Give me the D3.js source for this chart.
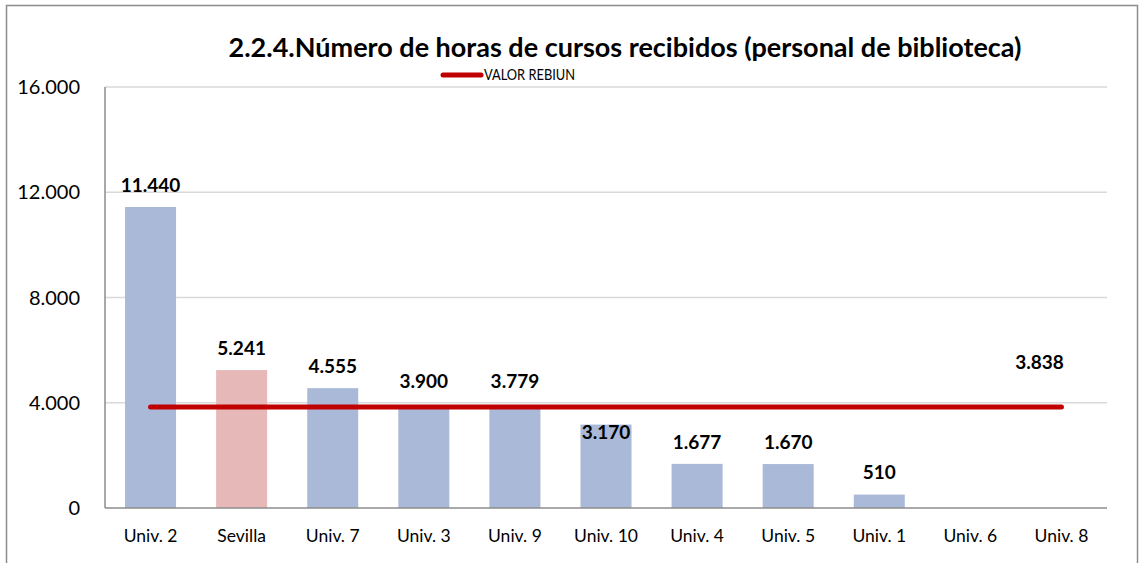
<!DOCTYPE html>
<html>
<head>
<meta charset="utf-8">
<script src="https://cdn.jsdelivr.net/npm/d3@7"></script>
<style>
  body { margin: 0; background: #fff; }
  svg { font-family: Lato, "Noto Sans", sans-serif; }
</style>
</head>
<body>
<svg id="chart" width="1141" height="563"></svg>
<script>
const categories = ['Univ. 2', 'Sevilla', 'Univ. 7', 'Univ. 3', 'Univ. 9', 'Univ. 10', 'Univ. 4', 'Univ. 5', 'Univ. 1', 'Univ. 6', 'Univ. 8'];
const hours = [11440, 5241, 4555, 3900, 3779, 3170, 1677, 1670, 510, 0, 0];
const rebiunValue = 3838;
const yTicks = [0, 4000, 8000, 12000, 16000];
const title = '2.2.4.Número de horas de cursos recibidos (personal de biblioteca)';
const legendLabel = 'VALOR REBIUN';
const highlight = 'Sevilla';

const es = d3.formatLocale({ decimal: ',', thousands: '.', grouping: [3], currency: ['', ' €'] });
const fmt = es.format(',d');

const svg = d3.select('#chart');
const W = 1141, H = 563;
const margin = { left: 105, right: 34, top: 87, bottom: 55 };
const plotW = W - margin.left - margin.right;
const plotH = H - margin.top - margin.bottom;

// outer frame
svg.append('rect')
  .attr('x', 6.5).attr('y', 5.5)
  .attr('width', 1131).attr('height', 620)
  .attr('fill', 'none')
  .attr('stroke', '#8c8c8c')
  .attr('stroke-width', 1.5);

const g = svg.append('g').attr('transform', `translate(${margin.left},${margin.top})`);

const x = d3.scaleBand().domain(categories).range([0, plotW]).paddingInner(0.44).paddingOuter(0.22);
const y = d3.scaleLinear().domain([0, 16000]).range([plotH, 0]);

// gridlines
g.selectAll('line.grid')
  .data(yTicks.filter((d) => d > 0))
  .enter()
  .append('line')
  .attr('class', 'grid')
  .attr('x1', 0).attr('x2', plotW)
  .attr('y1', (d) => y(d)).attr('y2', (d) => y(d))
  .attr('stroke', '#d9d9d9')
  .attr('stroke-width', 1.3);

// y axis labels
g.selectAll('text.yLabel')
  .data(yTicks)
  .enter()
  .append('text')
  .attr('class', 'yLabel')
  .attr('x', -25)
  .attr('y', (d) => y(d))
  .attr('dy', '0.35em')
  .attr('text-anchor', 'end')
  .attr('font-size', 20)
  .attr('fill', '#000')
  .text((d) => fmt(d));

// bars
g.selectAll('rect.bar')
  .data(hours)
  .enter()
  .append('rect')
  .attr('class', 'bar')
  .attr('x', (d, i) => x(categories[i]))
  .attr('y', (d) => y(d))
  .attr('width', x.bandwidth())
  .attr('height', (d) => plotH - y(d))
  .attr('fill', (d, i) => (categories[i] === highlight ? '#e6b8b7' : '#a9b9d7'));

// axis lines
g.append('line')
  .attr('x1', 0).attr('x2', 0).attr('y1', 0).attr('y2', plotH)
  .attr('stroke', '#8c8c8c').attr('stroke-width', 1.5);
g.append('line')
  .attr('x1', 0).attr('x2', plotW).attr('y1', plotH).attr('y2', plotH)
  .attr('stroke', '#8c8c8c').attr('stroke-width', 1.5);

// x labels
g.selectAll('text.xLabel')
  .data(categories)
  .enter()
  .append('text')
  .attr('class', 'xLabel')
  .attr('x', (d) => x(d) + x.bandwidth() / 2)
  .attr('y', plotH + 34)
  .attr('text-anchor', 'middle')
  .attr('font-size', 17.5)
  .attr('fill', '#000')
  .text((d) => d);

// REBIUN line
const centers = categories.map((c) => x(c) + x.bandwidth() / 2);
const lineY = y(rebiunValue);
g.append('path')
  .attr('d', d3.line()([[centers[0], lineY], [centers[centers.length - 1], lineY]]))
  .attr('stroke', '#c00000')
  .attr('stroke-width', 5)
  .attr('stroke-linecap', 'round')
  .attr('fill', 'none');

// bar value labels, nudged off the REBIUN line
g.selectAll('text.barLabel')
  .data(hours.map((v, i) => ({ v, c: categories[i] })).filter((d) => d.v > 0))
  .enter()
  .append('text')
  .attr('class', 'barLabel')
  .attr('x', (d) => x(d.c) + x.bandwidth() / 2)
  .attr('y', (d) => {
    const top = y(d.v);
    let c = top - 22;
    if (top < lineY + 8) c = Math.min(c, lineY - 26);
    else if (Math.abs(c - lineY) < 22) c = lineY + 25;
    return c;
  })
  .attr('dy', '0.35em')
  .attr('text-anchor', 'middle')
  .attr('font-size', 19)
  .attr('font-weight', 'bold')
  .attr('fill', '#000')
  .text((d) => fmt(d.v));

g.append('text')
  .attr('x', centers[centers.length - 1] - 22)
  .attr('y', lineY - 45)
  .attr('dy', '0.35em')
  .attr('text-anchor', 'middle')
  .attr('font-size', 19)
  .attr('font-weight', 'bold')
  .attr('fill', '#000')
  .text(fmt(rebiunValue));

// title
svg.append('text')
  .attr('x', 625)
  .attr('y', 57)
  .attr('text-anchor', 'middle')
  .attr('font-size', 27)
  .attr('font-weight', 'bold')
  .attr('fill', '#000')
  .text(title);

// legend
const legend = svg.append('g').attr('transform', 'translate(443,75)');
legend.append('line')
  .attr('x1', 0).attr('x2', 38).attr('y1', 0).attr('y2', 0)
  .attr('stroke', '#c00000').attr('stroke-width', 5).attr('stroke-linecap', 'round');
legend.append('text')
  .attr('x', 41).attr('y', 0).attr('dy', '0.35em')
  .attr('font-size', 15.5)
  .attr('textLength', 91)
  .attr('lengthAdjust', 'spacingAndGlyphs')
  .attr('fill', '#000')
  .text(legendLabel);
</script>
</body>
</html>
